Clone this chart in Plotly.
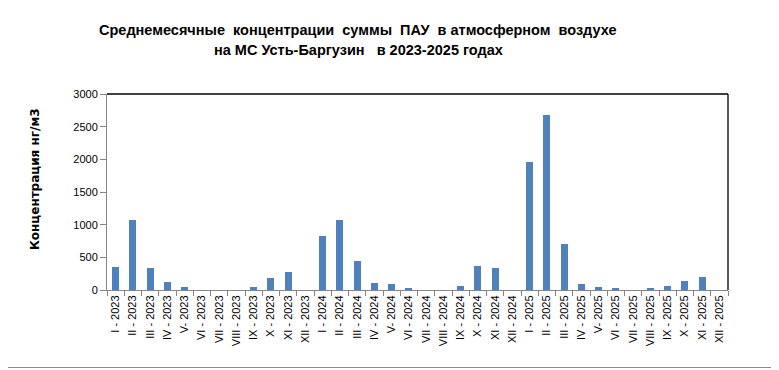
import plotly.graph_objects as go

months = ["I", "II", "III", "IV", "V-", "VI", "VII", "VIII", "IX", "X", "XI", "XII"]
years = ["2023", "2024", "2025"]
categories = [(m + " - " + y) if m != "V-" else ("V- " + y) for y in years for m in months]

values_2023 = [357, 1077, 342, 128, 51, 0, 0, 0, 51, 189, 281, 0]
values_2024 = [832, 1077, 449, 112, 97, 35, 0, 0, 66, 372, 342, 0]
values_2025 = [1964, 2684, 709, 97, 51, 20, 0, 20, 66, 143, 204, 0]
values = values_2023 + values_2024 + values_2025

title_line1 = "Среднемесячные  концентрации  суммы  ПАУ  в атмосферном  воздухе"
title_line2 = "на МС Усть-Баргузин   в 2023-2025 годах"
y_title = "Концентрация нг/м3"
y_ticks = [0, 500, 1000, 1500, 2000, 2500, 3000]

OFF = 8  # page body margin
W, H = 779 - OFF, 370 - OFF
# plot area in screen pixels: left 107, right 728, top 94, bottom 290
L = 107 - OFF
T = 94 - OFF
R = W - (728 - OFF)
B = H - (290 - OFF)
pw, ph = W - L - R, H - T - B

def px_x(sx):
    return (sx - OFF - L) / pw

def px_y(sy):
    return (H - B - (sy - OFF)) / ph

def nb(s):
    return s.replace(" ", "\u00a0")

fig = go.Figure(go.Bar(x=categories, y=values, marker_color="#4F81BD",
                       marker_line_width=0, width=0.41))

fig.update_layout(
    width=W, height=H,
    margin=dict(l=L, r=R, t=T, b=B, autoexpand=False),
    paper_bgcolor="white", plot_bgcolor="white",
    showlegend=False,
    font=dict(family="Liberation Sans", size=11, color="black"),
    xaxis=dict(type="category", tickangle=-90, ticks="outside", ticklen=5,
               tickcolor="#868686", tickson="boundaries", showline=True,
               linecolor="#868686", linewidth=1, showgrid=False,
               tickfont=dict(family="Liberation Sans", size=11)),
    yaxis=dict(range=[0, 3000], tickvals=y_ticks, ticks="outside", ticklen=6,
               tickcolor="#868686", showline=True, linecolor="#868686",
               linewidth=1, showgrid=False, zeroline=False,
               tickfont=dict(family="Liberation Sans", size=11)),
    bargap=0,
)

fig.add_shape(type="line", xref="paper", yref="paper", x0=0, x1=1, y0=1, y1=1,
              line=dict(color="black", width=1.3))
fig.add_shape(type="line", xref="paper", yref="paper", x0=1, x1=1, y0=0, y1=1,
              line=dict(color="black", width=1.3))
# outer chart border (right and bottom edges visible)
fig.add_shape(type="line", xref="paper", yref="paper",
              x0=px_x(776.5), x1=px_x(776.5), y0=px_y(367.5), y1=px_y(0),
              line=dict(color="#8c8c8c", width=1))
fig.add_shape(type="line", xref="paper", yref="paper",
              x0=px_x(0), x1=px_x(776.5), y0=px_y(367.5), y1=px_y(367.5),
              line=dict(color="#8c8c8c", width=1))

fig.add_annotation(text="<b>" + nb(title_line1) + "</b>", xref="paper", yref="paper",
                   x=px_x(358), y=px_y(30), showarrow=False, xanchor="center", yanchor="middle",
                   font=dict(family="Liberation Sans", size=14.5, color="black"))
fig.add_annotation(text="<b>" + nb(title_line2) + "</b>", xref="paper", yref="paper",
                   x=px_x(358), y=px_y(50), showarrow=False, xanchor="center", yanchor="middle",
                   font=dict(family="Liberation Sans", size=14.5, color="black"))
fig.add_annotation(text="<b>" + y_title + "</b>", xref="paper", yref="paper",
                   x=px_x(35), y=px_y(179), showarrow=False, textangle=-90,
                   xanchor="center", yanchor="middle",
                   font=dict(family="DejaVu Sans", size=12, color="black"))

fig.write_html("out.html")
